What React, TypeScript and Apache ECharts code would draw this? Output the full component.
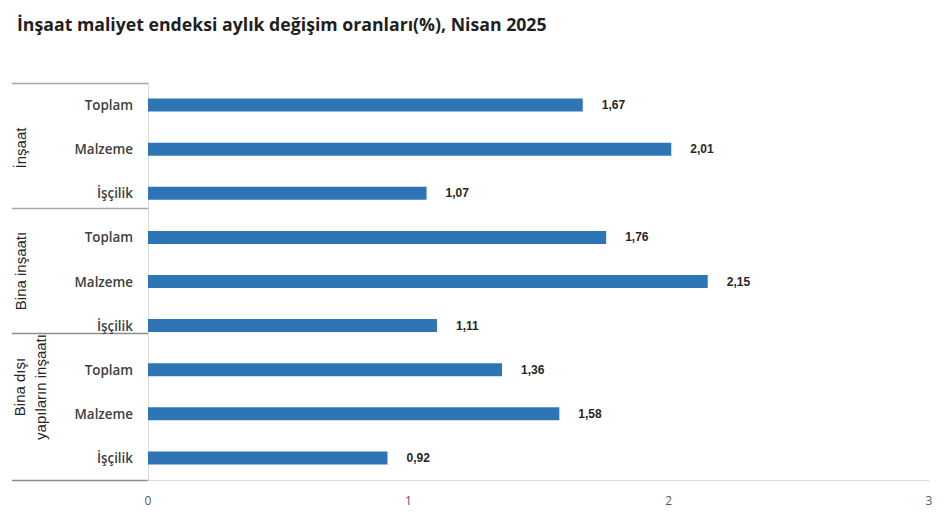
import React, { useEffect, useRef } from "react";
import * as echarts from "echarts";

const titleText = "İnşaat maliyet endeksi aylık değişim oranları(%), Nisan 2025";
const groups = ["İnşaat", "Bina inşaatı", "Bina dışı\nyapıların inşaatı"];
const subCategories = ["Toplam", "Malzeme", "İşçilik"];
const values = [1.67, 2.01, 1.07, 1.76, 2.15, 1.11, 1.36, 1.58, 0.92];
const xTicks = [0, 1, 2, 3];

export default function App() {
  const ref = useRef<HTMLDivElement>(null);
  useEffect(() => {
    if (!ref.current) return;
    const chart = echarts.init(ref.current, null, { renderer: "svg" });
    const cats: string[] = [];
    groups.forEach((g, gi) => subCategories.forEach((s) => cats.push(gi + "|" + s)));

    const W = 944;
    const gridLeft = 148;
    const gridTop = 83;
    const gridBottom = 480;
    const groupStyle = { align: "center", verticalAlign: "middle", fontFamily: "Liberation Sans", fontSize: 15, fill: "#262626" };

    chart.setOption({
      animation: false,
      backgroundColor: "#ffffff",
      title: {
        text: titleText,
        left: 12,
        top: 10,
        textStyle: {
          fontFamily: "Open Sans",
          fontWeight: "bold",
          fontSize: 17.7,
          color: "#1f1f1f",
        },
      },
      grid: { left: gridLeft, right: W - 929, top: gridTop, bottom: 523 - gridBottom, containLabel: false },
      xAxis: {
        type: "value",
        min: xTicks[0],
        max: xTicks[xTicks.length - 1],
        interval: 1,
        splitLine: { show: false },
        axisLine: { show: true, lineStyle: { color: "#d9d9d9", width: 1 } },
        axisTick: { show: false },
        axisLabel: {
          margin: 14,
          fontFamily: "Open Sans",
          fontSize: 12,
          color: "#595959",
        },
      },
      yAxis: {
        type: "category",
        inverse: true,
        data: cats,
        axisLine: { show: true, lineStyle: { color: "#d9d9d9", width: 1 } },
        axisTick: { show: false },
        axisLabel: {
          margin: 15,
          fontFamily: "Open Sans",
          fontWeight: 600,
          fontSize: 13.4,
          color: "#404040",
          formatter: (v: string) => v.split("|")[1],
        },
      },
      series: [
        {
          type: "bar",
          data: values,
          barWidth: 13,
          itemStyle: { color: "#2E75B6" },
          label: {
            show: true,
            position: "right",
            distance: 19,
            fontFamily: "Liberation Sans",
            fontWeight: "bold",
            fontSize: 12,
            color: "#262626",
            formatter: (p: any) => p.value.toFixed(2).replace(".", ","),
          },
        },
      ],
      graphic: [
        { type: "line", shape: { x1: 12, y1: 83.5, x2: gridLeft, y2: 83.5 }, style: { stroke: "#a6a6a6", lineWidth: 1.5 } },
        { type: "line", shape: { x1: 12, y1: 208.5, x2: gridLeft, y2: 208.5 }, style: { stroke: "#a6a6a6", lineWidth: 1.5 } },
        { type: "line", shape: { x1: 12, y1: 333.5, x2: gridLeft, y2: 333.5 }, style: { stroke: "#8c8c8c", lineWidth: 1.5 } },
        { type: "line", shape: { x1: 12, y1: 480.5, x2: gridLeft, y2: 480.5 }, style: { stroke: "#8c8c8c", lineWidth: 1.5 } },
        { type: "text", x: 20, y: 148, rotation: Math.PI / 2, style: { ...groupStyle, text: groups[0] } },
        { type: "text", x: 20, y: 271, rotation: Math.PI / 2, style: { ...groupStyle, text: groups[1] } },
        { type: "text", x: 30, y: 387, rotation: Math.PI / 2, style: { ...groupStyle, text: groups[2], lineHeight: 21 } },
      ],
    });
    return () => chart.dispose();
  }, []);
  return <div ref={ref} style={{ position: "fixed", left: 0, top: 0, width: 944, height: 523 }} />;
}
